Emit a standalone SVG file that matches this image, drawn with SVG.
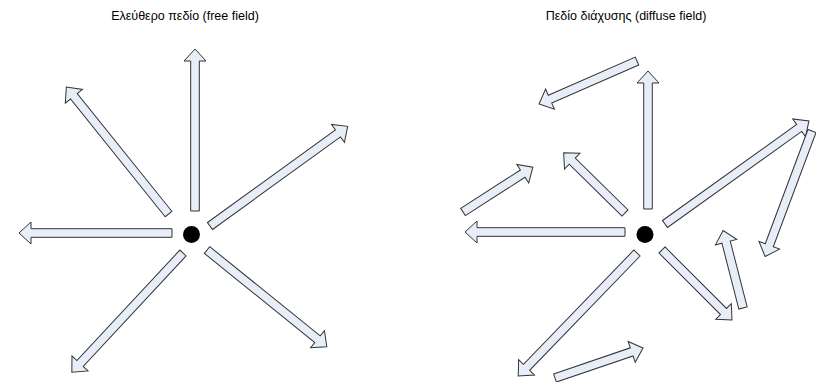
<svg xmlns="http://www.w3.org/2000/svg" width="816" height="382" viewBox="0 0 816 382">
<style>
.t{font-family:"Liberation Sans",Arial,sans-serif;font-size:12.5px;fill:#000;text-anchor:middle}
.a{fill:#E8EEF8;stroke:#333;stroke-width:1;stroke-linejoin:miter}
.d{fill:#000}
</style>
<rect width="816" height="382" fill="#fff"/>
<text class="t" x="185" y="20">Ελεύθερο πεδίο (free field)</text>
<text class="t" x="626" y="20">Πεδίο διάχυσης (diffuse field)</text>
<g id="source-free"><circle class="d" cx="191.5" cy="234.5" r="8.5"/></g>
<g id="source-diffuse"><circle class="d" cx="645" cy="234.5" r="8.5"/></g>
<g id="connectors">
<path class="a" transform="translate(195,211) rotate(-90)" d="M0,-4.3 L150,-4.3 L150,-11 L162,0 L150,11 L150,4.3 L0,4.3 Z"/>
<path class="a" transform="translate(168.5,214) rotate(-128.8)" d="M0,-4.3 L151,-4.3 L151,-11 L163,0 L151,11 L151,4.3 L0,4.3 Z"/>
<path class="a" transform="translate(172,233) rotate(180)" d="M0,-4.3 L141,-4.3 L141,-11 L153,0 L141,11 L141,4.3 L0,4.3 Z"/>
<path class="a" transform="translate(210,226) rotate(-35.9)" d="M0,-4.3 L158,-4.3 L158,-11 L170,0 L158,11 L158,4.3 L0,4.3 Z"/>
<path class="a" transform="translate(183,253) rotate(133)" d="M0,-4.3 L151,-4.3 L151,-11 L163,0 L151,11 L151,4.3 L0,4.3 Z"/>
<path class="a" transform="translate(207,250) rotate(38.9)" d="M0,-4.3 L142,-4.3 L142,-11 L154,0 L142,11 L142,4.3 L0,4.3 Z"/>

<path class="a" transform="translate(648,209) rotate(-90)" d="M0,-4.3 L126,-4.3 L126,-11 L138,0 L126,11 L126,4.3 L0,4.3 Z"/>
<path class="a" transform="translate(625,213) rotate(-135.5)" d="M0,-4.3 L74,-4.3 L74,-11 L86,0 L74,11 L74,4.3 L0,4.3 Z"/>
<path class="a" transform="translate(625,232) rotate(180)" d="M0,-4.3 L148,-4.3 L148,-11 L160,0 L148,11 L148,4.3 L0,4.3 Z"/>
<path class="a" transform="translate(665,224) rotate(-35.6)" d="M0,-4.3 L165,-4.3 L165,-11 L177,0 L165,11 L165,4.3 L0,4.3 Z"/>
<path class="a" transform="translate(812,131) rotate(110.5)" d="M0,-4.3 L122,-4.3 L122,-11 L134,0 L122,11 L122,4.3 L0,4.3 Z"/>
<path class="a" transform="translate(662,250) rotate(45)" d="M0,-4.3 L87,-4.3 L87,-11 L99,0 L87,11 L87,4.3 L0,4.3 Z"/>
<path class="a" transform="translate(743,308) rotate(-104.4)" d="M0,-4.3 L68,-4.3 L68,-11 L80,0 L68,11 L68,4.3 L0,4.3 Z"/>
<path class="a" transform="translate(637,253) rotate(134)" d="M0,-4.3 L159,-4.3 L159,-11 L171,0 L159,11 L159,4.3 L0,4.3 Z"/>
<path class="a" transform="translate(555,378) rotate(-18.8)" d="M0,-4.3 L81,-4.3 L81,-11 L93,0 L81,11 L81,4.3 L0,4.3 Z"/>
<path class="a" transform="translate(463,212) rotate(-32.7)" d="M0,-4.3 L71,-4.3 L71,-11 L83,0 L71,11 L71,4.3 L0,4.3 Z"/>
<path class="a" transform="translate(637,61) rotate(156.3)" d="M0,-4.3 L95,-4.3 L95,-11 L107,0 L95,11 L95,4.3 L0,4.3 Z"/>
</g>
</svg>
